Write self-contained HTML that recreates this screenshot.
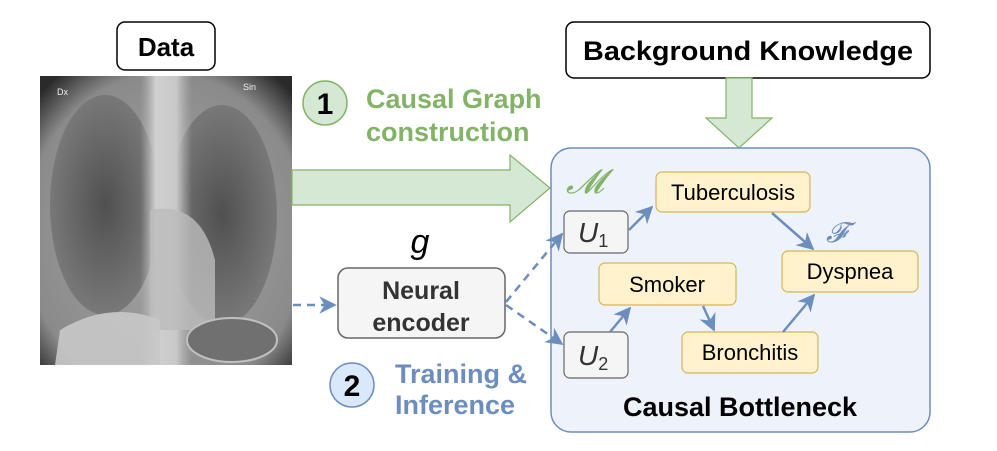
<!DOCTYPE html>
<html><head><meta charset="utf-8"><style>
html,body{margin:0;padding:0;background:#fff;width:997px;height:451px;overflow:hidden}
svg text{font-family:"Liberation Sans",sans-serif}
</style></head><body>
<svg width="997" height="451" viewBox="0 0 997 451" xmlns="http://www.w3.org/2000/svg">
<defs>
<radialGradient id="bg" cx="50%" cy="55%" r="70%"><stop offset="0" stop-color="#a8a8a8"/><stop offset="0.8" stop-color="#8a8a8a"/><stop offset="1" stop-color="#2a2a2a"/></radialGradient>
<radialGradient id="lung" cx="50%" cy="50%" r="55%"><stop offset="0" stop-color="#505050"/><stop offset="1" stop-color="#7c7c7c"/></radialGradient>
<linearGradient id="med" x1="0" x2="1"><stop offset="0" stop-color="#b0b0b0" stop-opacity="0"/><stop offset="0.3" stop-color="#d0d0d0"/><stop offset="0.7" stop-color="#c8c8c8"/><stop offset="1" stop-color="#b0b0b0" stop-opacity="0"/></linearGradient>
<marker id="ah" viewBox="0 0 10 10" refX="9" refY="5" markerWidth="7" markerHeight="7" orient="auto"><path d="M0,0 L10,5 L0,10 L3,5 z" fill="#6c8ebf"/></marker>
</defs>
<!-- X-ray -->
<rect x="40" y="76" width="252" height="289" fill="url(#bg)"/>
<ellipse cx="105" cy="205" rx="55" ry="110" fill="url(#lung)"/>
<ellipse cx="222" cy="215" rx="55" ry="110" fill="url(#lung)"/>
<rect x="140" y="76" width="52" height="289" fill="url(#med)"/>
<path d="M150,210 Q200,200 215,260 L215,330 L150,330 z" fill="#bcbcbc" opacity="0.8"/>
<path d="M60,330 Q110,300 160,320 L160,365 L55,365 z" fill="#c8c8c8" opacity="0.9"/>
<ellipse cx="232" cy="340" rx="45" ry="22" fill="#707070" stroke="#c0c0c0" stroke-width="2"/>
<text x="57" y="95" font-size="9" fill="#eee">Dx</text>
<text x="243" y="90" font-size="9" fill="#eee">Sin</text>
<!-- Data -->
<rect x="117" y="22" width="98" height="48" rx="8" fill="#fff" stroke="#000" stroke-width="1.5"/>
<text x="166" y="56" font-size="26" font-weight="bold" text-anchor="middle">Data</text>
<!-- Background Knowledge -->
<rect x="566" y="22" width="364" height="56" rx="8" fill="#fff" stroke="#000" stroke-width="1.5"/>
<text x="748" y="60" font-size="27" font-weight="bold" text-anchor="middle" textLength="330" lengthAdjust="spacingAndGlyphs">Background Knowledge</text>
<path d="M726,78 L752,78 L752,118 L772,118 L739,148 L706,118 L726,118 z" fill="#d5e8d4" stroke="#82b366" stroke-width="1.2"/>
<!-- big arrow -->
<path d="M292,170 L510,170 L510,155 L550,188 L510,222 L510,205 L292,205 z" fill="#d5e8d4" stroke="#82b366" stroke-width="1.2"/>
<circle cx="325" cy="103" r="22" fill="#d5e8d4" stroke="#82b366" stroke-width="1.5"/>
<text x="325" y="114" font-size="30" font-weight="bold" text-anchor="middle">1</text>
<text x="366" y="108" font-size="27" font-weight="bold" fill="#82b366">Causal Graph</text>
<text x="366" y="141" font-size="27" font-weight="bold" fill="#82b366">construction</text>
<!-- causal box -->
<rect x="551" y="148" width="379" height="284" rx="20" fill="#eef3fb" stroke="#6c8ebf" stroke-width="1.5"/>
<text x="566" y="193" font-size="34" font-style="italic" fill="#82b366" font-family="Liberation Serif,serif">𝓜</text>
<text x="826" y="242" font-size="28" font-style="italic" fill="#6c8ebf" font-family="Liberation Serif,serif">𝓕</text>
<g stroke-width="1.2">
<rect x="656" y="172" width="154" height="40" rx="6" fill="#fff2cc" stroke="#d6b656"/>
<rect x="599" y="263" width="137" height="42" rx="6" fill="#fff2cc" stroke="#d6b656"/>
<rect x="782" y="251" width="136" height="41" rx="6" fill="#fff2cc" stroke="#d6b656"/>
<rect x="682" y="332" width="136" height="41" rx="6" fill="#fff2cc" stroke="#d6b656"/>
<rect x="564" y="211" width="64" height="42" rx="6" fill="#f5f5f5" stroke="#666"/>
<rect x="564" y="332" width="64" height="46" rx="6" fill="#f5f5f5" stroke="#666"/>
</g>
<g font-size="22" text-anchor="middle">
<text x="733" y="200">Tuberculosis</text>
<text x="667" y="292">Smoker</text>
<text x="850" y="279">Dyspnea</text>
<text x="750" y="360">Bronchitis</text>
</g>
<g font-family="Liberation Serif,serif" font-style="italic" font-size="28" fill="#333">
<text x="578" y="242">U<tspan font-size="18" font-style="normal" dy="5">1</tspan></text>
<text x="578" y="365">U<tspan font-size="18" font-style="normal" dy="5">2</tspan></text>
</g>
<text x="740" y="416" font-size="27" font-weight="bold" text-anchor="middle">Causal Bottleneck</text>
<g stroke="#6c8ebf" stroke-width="2.5" fill="none" marker-end="url(#ah)">
<line x1="629" y1="230" x2="652" y2="207"/>
<line x1="772" y1="213" x2="813" y2="249"/>
<line x1="703" y1="306" x2="714" y2="330"/>
<line x1="783" y1="332" x2="814" y2="295"/>
<line x1="610" y1="332" x2="630" y2="308"/>
</g>
<!-- encoder -->
<text x="420" y="253" font-size="34" font-style="italic" text-anchor="middle" font-family="Liberation Serif,serif">g</text>
<rect x="338" y="268" width="167" height="70" rx="10" fill="#f5f5f5" stroke="#666" stroke-width="1.5"/>
<text x="421" y="299" font-size="25" font-weight="bold" text-anchor="middle" fill="#333">Neural</text>
<text x="421" y="331" font-size="25" font-weight="bold" text-anchor="middle" fill="#333">encoder</text>
<g stroke="#6c8ebf" stroke-width="2.5" fill="none" stroke-dasharray="8,6" marker-end="url(#ah)">
<line x1="293" y1="305" x2="335" y2="305"/>
<line x1="506" y1="302" x2="562" y2="234"/>
<line x1="506" y1="305" x2="562" y2="344"/>
</g>
<circle cx="352" cy="385" r="22" fill="#dae8fc" stroke="#6c8ebf" stroke-width="1.5"/>
<text x="352" y="396" font-size="30" font-weight="bold" text-anchor="middle">2</text>
<text x="395" y="383" font-size="27" font-weight="bold" fill="#6c8ebf">Training &amp;</text>
<text x="395" y="414" font-size="27" font-weight="bold" fill="#6c8ebf">Inference</text>
</svg>
</body></html>
